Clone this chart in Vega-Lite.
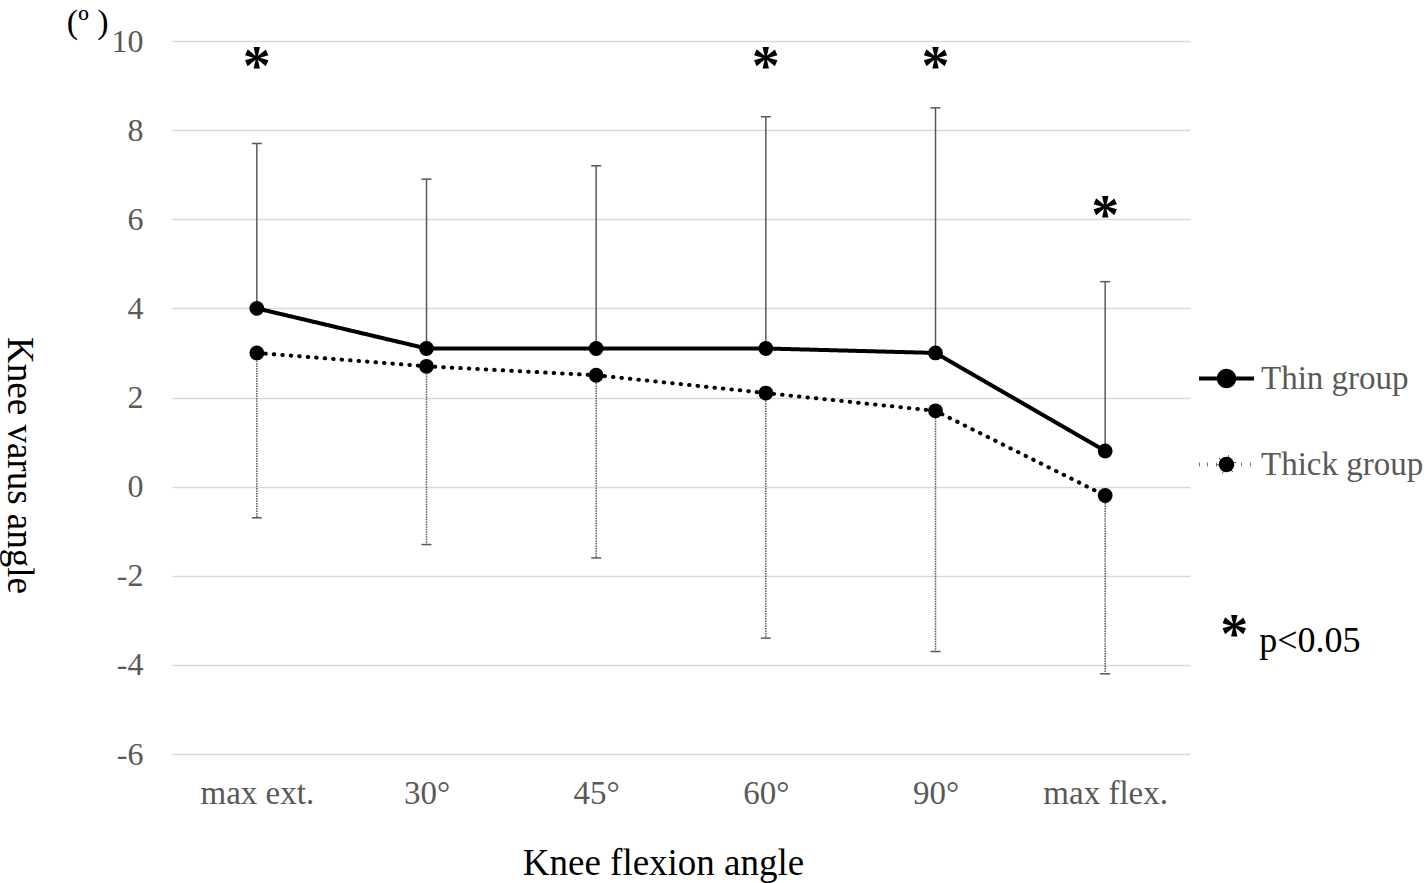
{
  "$schema": "https://vega.github.io/schema/vega-lite/v6.json",
  "width": 1018,
  "height": 713,
  "autosize": "none",
  "padding": {"left": 172, "top": 41, "right": 234, "bottom": 129},
  "background": "white",
  "config": {
    "view": {"stroke": null},
    "font": "Liberation Serif"
  },
  "datasets": {
    "main": [
      {"angle": "max ext.", "group": "Thin group", "mean": 4.0, "bound": 7.7},
      {"angle": "30°", "group": "Thin group", "mean": 3.1, "bound": 6.9},
      {"angle": "45°", "group": "Thin group", "mean": 3.1, "bound": 7.2},
      {"angle": "60°", "group": "Thin group", "mean": 3.1, "bound": 8.3},
      {"angle": "90°", "group": "Thin group", "mean": 3.0, "bound": 8.5},
      {"angle": "max flex.", "group": "Thin group", "mean": 0.8, "bound": 4.6},
      {"angle": "max ext.", "group": "Thick group", "mean": 3.0, "bound": -0.7},
      {"angle": "30°", "group": "Thick group", "mean": 2.7, "bound": -1.3},
      {"angle": "45°", "group": "Thick group", "mean": 2.5, "bound": -1.6},
      {"angle": "60°", "group": "Thick group", "mean": 2.1, "bound": -3.4},
      {"angle": "90°", "group": "Thick group", "mean": 1.7, "bound": -3.7},
      {"angle": "max flex.", "group": "Thick group", "mean": -0.2, "bound": -4.2}
    ],
    "stars": [
      {"angle": "max ext.", "y": 9.55},
      {"angle": "60°", "y": 9.55},
      {"angle": "90°", "y": 9.55},
      {"angle": "max flex.", "y": 6.2}
    ],
    "note": [
      {"angle": "max flex.", "y": -3.2, "star": "*", "label": "p<0.05"}
    ],
    "unit": [
      {"angle": "max ext.", "y": 10, "label": "(º )"}
    ]
  },
  "encoding": {
    "x": {
      "field": "angle",
      "type": "nominal",
      "sort": ["max ext.", "30°", "45°", "60°", "90°", "max flex."],
      "scale": {"type": "point", "padding": 0.5, "domain": ["max ext.", "30°", "45°", "60°", "90°", "max flex."]},
      "axis": {
        "title": "Knee flexion angle",
        "titleFont": "Liberation Serif",
        "titleFontSize": 37,
        "titleFontWeight": "normal",
        "titleColor": "#000000",
        "titleX": 491,
        "titleY": 120,
        "titleBaseline": "alphabetic",
        "labelFont": "Liberation Serif",
        "labelFontSize": 33,
        "labelColor": "#595959",
        "labelPadding": 23,
        "labelAngle": 0,
        "ticks": false,
        "domain": false,
        "grid": false
      }
    }
  },
  "layer": [
    {
      "data": {"name": "main"},
      "transform": [{"filter": "datum.group === 'Thin group'"}],
      "mark": {"type": "rule", "color": "#595959", "strokeWidth": 1.5},
      "encoding": {
        "y": {
          "field": "mean",
          "type": "quantitative",
          "scale": {"domain": [-6, 10], "nice": false, "zero": false},
          "axis": {
            "title": "Knee varus angle",
            "titleFont": "Liberation Serif",
            "titleFontSize": 37,
            "titleFontWeight": "normal",
            "titleColor": "#000000",
            "titleAngle": 90,
            "titleX": -154,
            "titleY": 424,
            "titleAlign": "center",
            "titleBaseline": "middle",
            "values": [-6, -4, -2, 0, 2, 4, 6, 8, 10],
            "labelExpr": "'' + datum.value",
            "labelFont": "Liberation Serif",
            "labelFontSize": 32,
            "labelColor": "#595959",
            "labelPadding": 29,
            "ticks": false,
            "domain": false,
            "grid": true,
            "gridColor": "#d9d9d9",
            "gridWidth": 1.5
          }
        },
        "y2": {"field": "bound"}
      }
    },
    {
      "data": {"name": "main"},
      "transform": [{"filter": "datum.group === 'Thin group'"}],
      "mark": {"type": "tick", "orient": "horizontal", "color": "#595959", "size": 10, "thickness": 1.5, "opacity": 1},
      "encoding": {
        "y": {"field": "bound", "type": "quantitative"}
      }
    },
    {
      "data": {"name": "main"},
      "transform": [{"filter": "datum.group === 'Thick group'"}],
      "mark": {"type": "rule", "color": "#595959", "strokeWidth": 1.5, "strokeDash": [1.5, 1]},
      "encoding": {
        "y": {"field": "mean", "type": "quantitative"},
        "y2": {"field": "bound"}
      }
    },
    {
      "data": {"name": "main"},
      "transform": [{"filter": "datum.group === 'Thick group'"}],
      "mark": {"type": "tick", "orient": "horizontal", "color": "#595959", "size": 10, "thickness": 1.5, "opacity": 1, "strokeDash": [1.5, 1]},
      "encoding": {
        "y": {"field": "bound", "type": "quantitative"}
      }
    },
    {
      "data": {"name": "main"},
      "mark": {"type": "line", "color": "#000000", "strokeWidth": 4, "strokeCap": "round"},
      "encoding": {
        "y": {"field": "mean", "type": "quantitative"},
        "detail": {"field": "group"},
        "strokeDash": {
          "field": "group",
          "type": "nominal",
          "scale": {"domain": ["Thin group", "Thick group"], "range": [[1, 0], [0.5, 8]]},
          "legend": {
            "title": null,
            "orient": "none",
            "legendX": 1025,
            "legendY": 308,
            "symbolType": "M-1,0H1M-0.28,0A0.28,0.28 0 1,0 0.28,0A0.28,0.28 0 1,0 -0.28,0Z",
            "symbolSize": 3025,
            "symbolFillColor": "#000000",
            "symbolStrokeColor": "#000000",
            "symbolStrokeWidth": 4,
            "symbolOpacity": 1,
            "labelFont": "Liberation Serif",
            "labelFontSize": 33,
            "labelColor": "#595959",
            "labelOffset": 5,
            "rowPadding": 39,
            "labelLimit": 300
          }
        }
      }
    },
    {
      "data": {"name": "main"},
      "mark": {"type": "point", "filled": true, "color": "#000000", "size": 220, "opacity": 1},
      "encoding": {
        "y": {"field": "mean", "type": "quantitative"}
      }
    },
    {
      "data": {"name": "stars"},
      "mark": {"type": "text", "text": "*", "font": "Liberation Serif", "fontSize": 56, "fontWeight": "bold", "color": "#000000", "baseline": "middle", "dy": 7},
      "encoding": {
        "y": {"field": "y", "type": "quantitative"}
      }
    },
    {
      "data": {"name": "note"},
      "mark": {"type": "text", "font": "Liberation Serif", "fontSize": 56, "fontWeight": "bold", "color": "#000000", "baseline": "middle", "dx": 129, "dy": 7},
      "encoding": {
        "y": {"field": "y", "type": "quantitative"},
        "text": {"field": "star"}
      }
    },
    {
      "data": {"name": "note"},
      "mark": {"type": "text", "font": "Liberation Serif", "fontSize": 36, "color": "#000000", "align": "left", "baseline": "alphabetic", "dx": 154, "dy": 23},
      "encoding": {
        "y": {"field": "y", "type": "quantitative"},
        "text": {"field": "label"}
      }
    },
    {
      "data": {"name": "unit"},
      "mark": {"type": "text", "font": "Liberation Serif", "fontSize": 34, "color": "#000000", "align": "left", "baseline": "alphabetic", "dx": -190, "dy": -8},
      "encoding": {
        "y": {"field": "y", "type": "quantitative"},
        "text": {"field": "label"}
      }
    }
  ]
}
